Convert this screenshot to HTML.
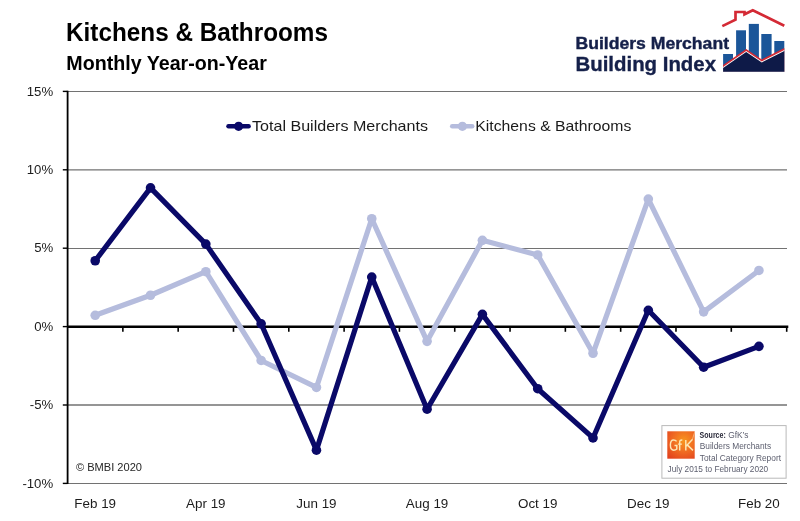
<!DOCTYPE html>
<html><head><meta charset="utf-8"><title>Kitchens &amp; Bathrooms</title>
<style>html,body{margin:0;padding:0;background:#fff;}body{width:800px;height:521px;overflow:hidden;font-family:"Liberation Sans",sans-serif;}svg{display:block;will-change:transform;}</style>
</head><body>
<svg width="800" height="521" viewBox="0 0 800 521">
<line x1="67.55" y1="91.50" x2="787.0" y2="91.50" stroke="#727272" stroke-width="1.15"/>
<line x1="67.55" y1="169.90" x2="787.0" y2="169.90" stroke="#727272" stroke-width="1.4"/>
<line x1="67.55" y1="248.50" x2="787.0" y2="248.50" stroke="#727272" stroke-width="1.15"/>
<line x1="67.55" y1="405.00" x2="787.0" y2="405.00" stroke="#727272" stroke-width="1.4"/>
<line x1="67.55" y1="483.50" x2="787.0" y2="483.50" stroke="#727272" stroke-width="1.15"/>
<line x1="62.8" y1="91.40" x2="67.55" y2="91.40" stroke="#000" stroke-width="1.4"/>
<line x1="62.8" y1="169.80" x2="67.55" y2="169.80" stroke="#000" stroke-width="1.4"/>
<line x1="62.8" y1="248.20" x2="67.55" y2="248.20" stroke="#000" stroke-width="1.4"/>
<line x1="62.8" y1="326.60" x2="67.55" y2="326.60" stroke="#000" stroke-width="1.4"/>
<line x1="62.8" y1="405.00" x2="67.55" y2="405.00" stroke="#000" stroke-width="1.4"/>
<line x1="62.8" y1="483.40" x2="67.55" y2="483.40" stroke="#000" stroke-width="1.4"/>
<line x1="67.6" y1="90.70" x2="67.6" y2="484.10" stroke="#000" stroke-width="1.8"/>
<line x1="67.55" y1="326.75" x2="788.3" y2="326.75" stroke="#000" stroke-width="2.7"/>
<line x1="122.86" y1="326.6" x2="122.86" y2="331.80" stroke="#000" stroke-width="1.6"/>
<line x1="178.17" y1="326.6" x2="178.17" y2="331.80" stroke="#000" stroke-width="1.6"/>
<line x1="233.48" y1="326.6" x2="233.48" y2="331.80" stroke="#000" stroke-width="1.6"/>
<line x1="288.80" y1="326.6" x2="288.80" y2="331.80" stroke="#000" stroke-width="1.6"/>
<line x1="344.11" y1="326.6" x2="344.11" y2="331.80" stroke="#000" stroke-width="1.6"/>
<line x1="399.42" y1="326.6" x2="399.42" y2="331.80" stroke="#000" stroke-width="1.6"/>
<line x1="454.73" y1="326.6" x2="454.73" y2="331.80" stroke="#000" stroke-width="1.6"/>
<line x1="510.04" y1="326.6" x2="510.04" y2="331.80" stroke="#000" stroke-width="1.6"/>
<line x1="565.35" y1="326.6" x2="565.35" y2="331.80" stroke="#000" stroke-width="1.6"/>
<line x1="620.67" y1="326.6" x2="620.67" y2="331.80" stroke="#000" stroke-width="1.6"/>
<line x1="675.98" y1="326.6" x2="675.98" y2="331.80" stroke="#000" stroke-width="1.6"/>
<line x1="731.29" y1="326.6" x2="731.29" y2="331.80" stroke="#000" stroke-width="1.6"/>
<line x1="786.70" y1="326.6" x2="786.70" y2="331.80" stroke="#000" stroke-width="1.6"/>
<text x="53.2" y="95.50" text-anchor="end" font-size="13.2" fill="#1c1c1c" font-family="Liberation Sans, sans-serif">15%</text>
<text x="53.2" y="173.90" text-anchor="end" font-size="13.2" fill="#1c1c1c" font-family="Liberation Sans, sans-serif">10%</text>
<text x="53.2" y="252.30" text-anchor="end" font-size="13.2" fill="#1c1c1c" font-family="Liberation Sans, sans-serif">5%</text>
<text x="53.2" y="330.70" text-anchor="end" font-size="13.2" fill="#1c1c1c" font-family="Liberation Sans, sans-serif">0%</text>
<text x="53.2" y="409.10" text-anchor="end" font-size="13.2" fill="#1c1c1c" font-family="Liberation Sans, sans-serif">-5%</text>
<text x="53.2" y="487.50" text-anchor="end" font-size="13.2" fill="#1c1c1c" font-family="Liberation Sans, sans-serif">-10%</text>
<text x="95.21" y="507.9" text-anchor="middle" font-size="13.4" fill="#1c1c1c" font-family="Liberation Sans, sans-serif">Feb 19</text>
<text x="205.83" y="507.9" text-anchor="middle" font-size="13.4" fill="#1c1c1c" font-family="Liberation Sans, sans-serif">Apr 19</text>
<text x="316.45" y="507.9" text-anchor="middle" font-size="13.4" fill="#1c1c1c" font-family="Liberation Sans, sans-serif">Jun 19</text>
<text x="427.08" y="507.9" text-anchor="middle" font-size="13.4" fill="#1c1c1c" font-family="Liberation Sans, sans-serif">Aug 19</text>
<text x="537.70" y="507.9" text-anchor="middle" font-size="13.4" fill="#1c1c1c" font-family="Liberation Sans, sans-serif">Oct 19</text>
<text x="648.32" y="507.9" text-anchor="middle" font-size="13.4" fill="#1c1c1c" font-family="Liberation Sans, sans-serif">Dec 19</text>
<text x="758.94" y="507.9" text-anchor="middle" font-size="13.4" fill="#1c1c1c" font-family="Liberation Sans, sans-serif">Feb 20</text>
<polyline points="95.21,315.31 150.52,295.24 205.83,271.72 261.14,360.47 316.45,387.44 371.76,218.72 427.08,341.34 482.39,240.36 537.70,254.94 593.01,353.26 648.32,199.12 703.63,311.86 758.94,270.47" fill="none" stroke="#b5bcdd" stroke-width="5.2" stroke-linejoin="round" stroke-linecap="round"/>
<circle cx="95.21" cy="315.31" r="4.8" fill="#b5bcdd"/>
<circle cx="150.52" cy="295.24" r="4.8" fill="#b5bcdd"/>
<circle cx="205.83" cy="271.72" r="4.8" fill="#b5bcdd"/>
<circle cx="261.14" cy="360.47" r="4.8" fill="#b5bcdd"/>
<circle cx="316.45" cy="387.44" r="4.8" fill="#b5bcdd"/>
<circle cx="371.76" cy="218.72" r="4.8" fill="#b5bcdd"/>
<circle cx="427.08" cy="341.34" r="4.8" fill="#b5bcdd"/>
<circle cx="482.39" cy="240.36" r="4.8" fill="#b5bcdd"/>
<circle cx="537.70" cy="254.94" r="4.8" fill="#b5bcdd"/>
<circle cx="593.01" cy="353.26" r="4.8" fill="#b5bcdd"/>
<circle cx="648.32" cy="199.12" r="4.8" fill="#b5bcdd"/>
<circle cx="703.63" cy="311.86" r="4.8" fill="#b5bcdd"/>
<circle cx="758.94" cy="270.47" r="4.8" fill="#b5bcdd"/>
<polyline points="95.21,260.74 150.52,187.83 205.83,244.12 261.14,323.78 316.45,450.16 371.76,277.05 427.08,409.23 482.39,314.37 537.70,388.69 593.01,437.93 648.32,310.29 703.63,367.21 758.94,346.36" fill="none" stroke="#0a0968" stroke-width="5.2" stroke-linejoin="round" stroke-linecap="round"/>
<circle cx="95.21" cy="260.74" r="4.8" fill="#0a0968"/>
<circle cx="150.52" cy="187.83" r="4.8" fill="#0a0968"/>
<circle cx="205.83" cy="244.12" r="4.8" fill="#0a0968"/>
<circle cx="261.14" cy="323.78" r="4.8" fill="#0a0968"/>
<circle cx="316.45" cy="450.16" r="4.8" fill="#0a0968"/>
<circle cx="371.76" cy="277.05" r="4.8" fill="#0a0968"/>
<circle cx="427.08" cy="409.23" r="4.8" fill="#0a0968"/>
<circle cx="482.39" cy="314.37" r="4.8" fill="#0a0968"/>
<circle cx="537.70" cy="388.69" r="4.8" fill="#0a0968"/>
<circle cx="593.01" cy="437.93" r="4.8" fill="#0a0968"/>
<circle cx="648.32" cy="310.29" r="4.8" fill="#0a0968"/>
<circle cx="703.63" cy="367.21" r="4.8" fill="#0a0968"/>
<circle cx="758.94" cy="346.36" r="4.8" fill="#0a0968"/>
<line x1="228.5" y1="126.3" x2="248.6" y2="126.3" stroke="#0a0968" stroke-width="4.5" stroke-linecap="round"/>
<circle cx="238.6" cy="126.3" r="4.6" fill="#0a0968"/>
<text x="252" y="131.4" font-size="15" textLength="176" lengthAdjust="spacingAndGlyphs" fill="#1a1a1a" font-family="Liberation Sans, sans-serif">Total Builders Merchants</text>
<line x1="452.2" y1="126.3" x2="472.2" y2="126.3" stroke="#b5bcdd" stroke-width="4.5" stroke-linecap="round"/>
<circle cx="462.4" cy="126.3" r="4.6" fill="#b5bcdd"/>
<text x="475.3" y="131.4" font-size="15" textLength="156" lengthAdjust="spacingAndGlyphs" fill="#1a1a1a" font-family="Liberation Sans, sans-serif">Kitchens &amp; Bathrooms</text>
<text x="66" y="41.2" font-size="25.6" font-weight="bold" textLength="262" lengthAdjust="spacingAndGlyphs" fill="#000" font-family="Liberation Sans, sans-serif">Kitchens &amp; Bathrooms</text>
<text x="66.3" y="69.5" font-size="19.5" font-weight="bold" textLength="200.5" lengthAdjust="spacingAndGlyphs" fill="#000" font-family="Liberation Sans, sans-serif">Monthly Year-on-Year</text>
<text x="76" y="471.2" font-size="11.5" textLength="66" lengthAdjust="spacingAndGlyphs" fill="#262626" font-family="Liberation Sans, sans-serif">© BMBI 2020</text>
<rect x="661.9" y="425.6" width="124.2" height="52.6" fill="#fff" stroke="#bababa" stroke-width="1"/>
<defs><radialGradient id="gfk" cx="0.6" cy="0.35" r="0.8"><stop offset="0" stop-color="#f8961f"/><stop offset="0.5" stop-color="#f06c22"/><stop offset="1" stop-color="#e2421e"/></radialGradient></defs>
<rect x="667.3" y="431.3" width="27.4" height="27.4" fill="url(#gfk)"/>
<g fill="none" stroke="#fde7b4" stroke-width="1.45" stroke-linecap="butt"><path d="M676.6,441.4 C675.8,440.3 674.7,439.9 673.6,439.9 C671.4,439.9 670.4,442.3 670.4,445.1 C670.4,448.2 671.5,450.2 673.7,450.2 C675,450.2 676.1,449.8 676.8,449.1 L676.8,445.4 L674.5,445.4"/><path d="M679.7,450.4 L679.7,441.9 C679.7,440.6 680.3,440 681.2,440 C681.6,440 682,440.1 682.3,440.3 M678.1,444.1 L681.9,444.1"/><path d="M685.8,439.9 L685.8,450.4 M685.8,446.4 L692.6,439.3 M687.2,444.9 L693,450.4"/></g>
<line x1="692.4" y1="439.5" x2="694.6" y2="432.2" stroke="#fbb77a" stroke-width="0.9"/>
<text x="699.6" y="438.3" font-size="8.6" fill="#5c5e6e" font-family="Liberation Sans, sans-serif"><tspan font-weight="bold" fill="#2a2a3a" textLength="26.2" lengthAdjust="spacingAndGlyphs">Source:</tspan><tspan x="728.2" textLength="20.3" lengthAdjust="spacingAndGlyphs">GfK’s</tspan></text>
<text x="699.8" y="449.2" font-size="8.2" textLength="71.3" lengthAdjust="spacingAndGlyphs" fill="#5c5e6e" font-family="Liberation Sans, sans-serif">Builders Merchants</text>
<text x="699.8" y="461.2" font-size="8.2" textLength="81.2" lengthAdjust="spacingAndGlyphs" fill="#5c5e6e" font-family="Liberation Sans, sans-serif">Total Category Report</text>
<text x="667.6" y="471.9" font-size="8.2" textLength="100.6" lengthAdjust="spacingAndGlyphs" fill="#5c5e6e" font-family="Liberation Sans, sans-serif">July 2015 to February 2020</text>
<g id="logo">
<text x="575.5" y="48.8" font-size="15.9" stroke="#15204a" stroke-width="0.4" font-weight="bold" textLength="153.5" lengthAdjust="spacingAndGlyphs" fill="#15204a" font-family="Liberation Sans, sans-serif">Builders Merchant</text>
<text x="575.5" y="70.8" font-size="20.1" stroke="#15204a" stroke-width="0.35" font-weight="bold" textLength="140.5" lengthAdjust="spacingAndGlyphs" fill="#15204a" font-family="Liberation Sans, sans-serif">Building Index</text>
<g fill="#1b5699">
<rect x="723.1" y="54" width="9.9" height="17.7"/>
<rect x="736.1" y="30.3" width="9.9" height="41.4"/>
<rect x="748.8" y="23.9" width="10.1" height="47.8"/>
<rect x="761.3" y="34" width="10.3" height="37.7"/>
<rect x="774.3" y="41" width="10" height="30.7"/>
</g>
<polygon points="723.1,65.1 746.2,48.9 761.8,59.4 784.3,48 784.3,71.7 723.1,71.7" fill="#d42a35"/>
<polygon points="723.1,67.1 746.2,50.9 761.8,61.4 784.3,50 784.3,71.7 723.1,71.7" fill="#ffffff"/>
<polygon points="723.1,68.1 746.2,51.9 761.8,62.4 784.3,51 784.3,71.7 723.1,71.7" fill="#0e1a48"/>
<polyline points="722.3,26.1 735.5,19.6 735.5,12 744.5,12 744.5,14.3 752.8,10.2 784.3,25.7" fill="none" stroke="#d42a35" stroke-width="2.7" stroke-linejoin="miter"/>
</g>

</svg>
</body></html>
